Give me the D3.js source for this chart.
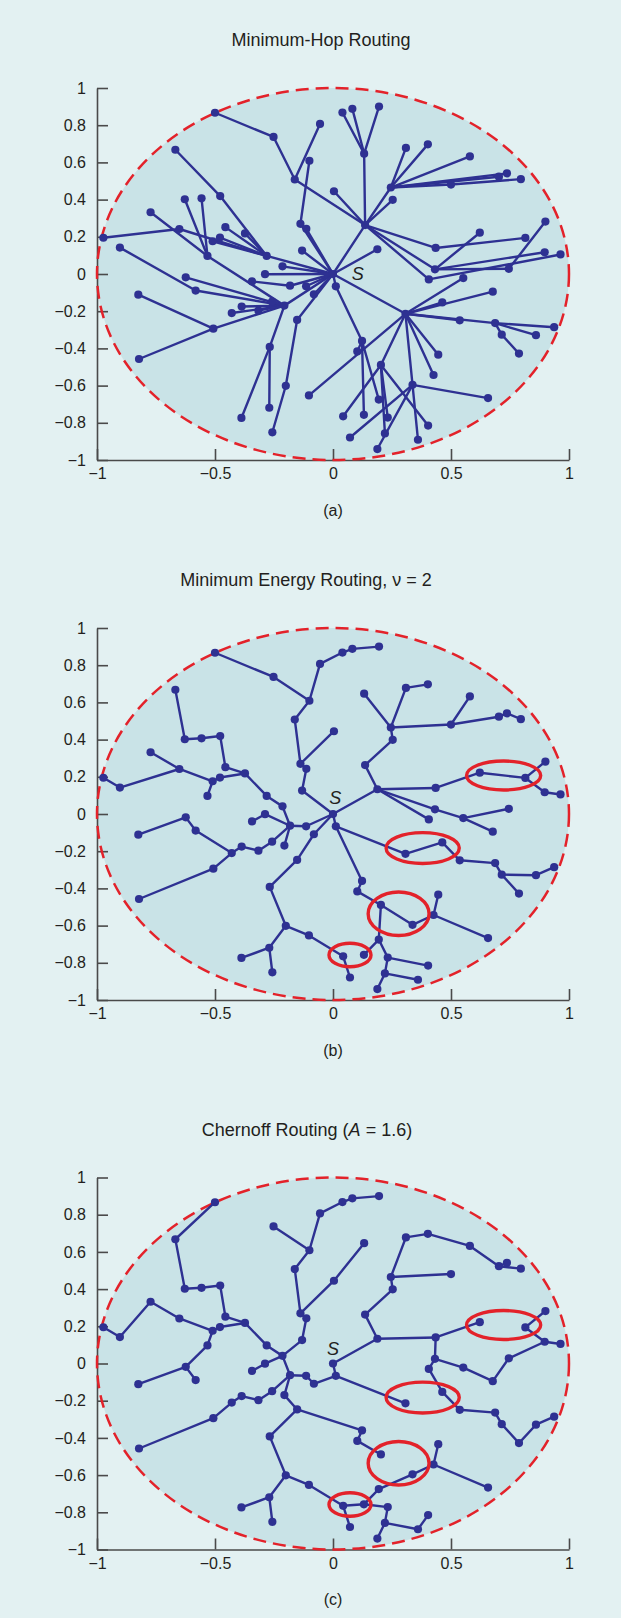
<!DOCTYPE html>
<html><head><meta charset="utf-8">
<script src="https://cdn.jsdelivr.net/npm/d3@7"></script>
<style>
html,body{margin:0;padding:0;background:#e3f1f2;}
svg{display:block;}
text{font-family:"Liberation Sans",Arial,Helvetica,sans-serif;fill:#231f20;}
</style></head><body><svg id="chart" width="621" height="1618"></svg>
<script>
// ---------- data ----------
const xTicks = [-1, -0.5, 0, 0.5, 1];
const xTickLabels = ["−1", "−0.5", "0", "0.5", "1"];
const yTicks = [1, 0.8, 0.6, 0.4, 0.2, 0, -0.2, -0.4, -0.6, -0.8, -1];
const yTickLabels = ["1", "0.8", "0.6", "0.4", "0.2", "0", "−0.2", "−0.4", "−0.6", "−0.8", "−1"];

// sensor nodes: [id, x, y]
const nodes = [
 ["S",0,0],
 ["n1",-0.50,0.867],["n2",-0.252,0.737],["n3",-0.055,0.807],["n4",-0.10,0.609],["n5",-0.162,0.508],
 ["n6",0.004,0.445],["n7",-0.668,0.668],["n8",-0.628,0.402],["n9",-0.557,0.407],["n10",-0.478,0.419],
 ["n11",-0.456,0.252],["n12",-0.373,0.218],["n13",-0.773,0.332],["n14",-0.651,0.242],["n15",-0.973,0.195],
 ["n16",-0.903,0.142],["n17",-0.51,0.176],["n18",-0.479,0.196],["n19",-0.532,0.097],["n20",-0.281,0.097],
 ["n21",-0.214,0.041],["n22",-0.138,0.270],["n23",-0.113,0.243],["n24",-0.131,0.126],["n25",0.040,0.868],
 ["n26",0.082,0.888],["n27",0.195,0.900],["n28",0.132,0.647],["n29",0.309,0.678],["n30",0.402,0.697],
 ["n31",0.580,0.632],["n32",0.245,0.465],["n33",0.253,0.399],["n34",0.50,0.481],["n35",0.703,0.523],
 ["n36",0.737,0.541],["n37",0.796,0.510],["n39",0.136,0.263],["n40",0.188,0.133],["n41",0.435,0.140],
 ["n42",0.622,0.222],["n43",0.815,0.194],["n44",0.90,0.282],["n45",0.897,0.117],["n46",0.964,0.105],
 ["n47",0.432,0.025],["n48",0.745,0.028],["n49",-0.825,-0.111],["n50",-0.624,-0.018],["n51",-0.582,-0.089],
 ["n52",-0.429,-0.210],["n53",-0.387,-0.175],["n54",-0.316,-0.197],["n55",-0.258,-0.149],["n56",-0.507,-0.294],
 ["n57",-0.822,-0.457],["n58",-0.268,-0.392],["n59",-0.152,-0.247],["n60",-0.081,-0.109],["n61",-0.182,-0.063],
 ["n62",-0.114,-0.066],["n63",-0.206,-0.170],["n64",-0.343,-0.040],["n65",-0.288,-0.001],["n67",-0.200,-0.601],
 ["n68",-0.102,-0.653],["n69",-0.270,-0.719],["n70",-0.388,-0.774],["n71",-0.257,-0.851],["n73",0.012,-0.066],
 ["n74",0.406,-0.029],["n75",0.552,-0.022],["n76",0.677,-0.095],["n79",0.307,-0.214],["n80",0.463,-0.153],
 ["n81",0.537,-0.249],["n82",0.687,-0.264],["n83",0.715,-0.326],["n84",0.86,-0.329],["n85",0.937,-0.286],
 ["n86",0.788,-0.428],["n87",0.123,-0.360],["n88",0.103,-0.416],["n89",0.446,-0.434],["n90",0.203,-0.489],
 ["n91",0.426,-0.543],["n92",0.337,-0.596],["n93",0.657,-0.667],["n94",0.194,-0.675],["n95",0.043,-0.765],
 ["n96",0.131,-0.757],["n97",0.232,-0.772],["n98",0.403,-0.815],["n99",0.22,-0.857],["n100",0.072,-0.879],
 ["n101",0.36,-0.891],["n102",0.188,-0.941]
];

// (a) Minimum-hop routing tree
const edgesA = [
 "S-n39","S-n79","S-n63","S-n20","S-n22","S-n23","S-n24","S-n21","S-n40","S-n73","S-n62","S-n60","S-n61","S-n65","S-n59",
 "n39-n5","n5-n2","n2-n1","n5-n3","n4-n22","n39-n6","n39-n28","n28-n25","n28-n26","n28-n27","n39-n32","n32-n29",
 "n32-n30","n32-n31","n32-n34","n32-n35","n32-n36","n34-n37","n39-n33","n39-n41","n41-n43","n39-n47","n47-n42",
 "n47-n45","n47-n48","n48-n44","n39-n74","n74-n46",
 "n20-n10","n10-n7","n20-n11","n20-n12","n20-n14","n20-n17","n20-n18","n14-n15","n19-n8","n19-n9","n19-n13","n63-n19",
 "n63-n56","n56-n49","n56-n57","n63-n51","n51-n16","n63-n50","n63-n52","n63-n53","n63-n54","n63-n55","n61-n64",
 "n63-n58","n58-n69","n58-n70","n59-n67","n67-n71",
 "n79-n68","n79-n80","n79-n76","n79-n75","n79-n81","n79-n82","n82-n85","n82-n84","n82-n83","n83-n86","n79-n89",
 "n79-n91","n79-n92","n79-n90","n92-n93","n92-n101","n92-n100","n92-n102","n90-n95","n90-n97","n90-n98","n90-n99",
 "n73-n87","n87-n88","n87-n94","n87-n96"
];

// (b) Minimum energy routing tree, nu = 2
const edgesB = [
 "S-n40","S-n24","S-n73","S-n62","S-n60",
 "n40-n39","n39-n33","n33-n32","n32-n28","n32-n29","n29-n30","n32-n34","n34-n31","n34-n35","n35-n36","n36-n37",
 "n40-n41","n41-n42","n42-n43","n43-n44","n43-n45","n45-n46","n40-n47","n40-n74","n47-n75","n75-n48","n75-n76",
 "n24-n23","n23-n22","n22-n6","n22-n5","n5-n4","n4-n2","n2-n1","n4-n3","n3-n25","n25-n26","n26-n27",
 "n62-n61","n61-n63","n61-n65","n65-n64","n61-n55","n55-n54","n54-n53","n53-n52","n52-n51","n51-n50","n50-n49",
 "n52-n56","n56-n57","n61-n21","n21-n20","n20-n12","n12-n11","n11-n10","n10-n9","n9-n8","n8-n7","n12-n18",
 "n18-n17","n17-n19","n17-n14","n14-n13","n14-n16","n16-n15",
 "n60-n59","n59-n58","n58-n67","n67-n68","n67-n69","n69-n70","n69-n71","n68-n95","n95-n100",
 "n73-n79","n79-n80","n80-n81","n81-n82","n82-n83","n83-n84","n84-n85","n83-n86",
 "n73-n87","n87-n88","n88-n90","n90-n92","n92-n91","n91-n89","n91-n93","n90-n94","n94-n96","n94-n97",
 "n97-n98","n97-n99","n99-n101","n99-n102"
];

// (c) Chernoff routing tree, A = 1.6
const edgesC = [
 "S-n40","S-n73","n73-n79","n73-n60","n60-n62","n62-n61","n61-n63","n63-n59","n59-n58","n58-n67","n67-n68",
 "n67-n69","n69-n70","n69-n71","n68-n95","n95-n100","n95-n96","n96-n97","n97-n99","n99-n102","n99-n101",
 "n101-n98","n96-n94","n94-n92","n92-n91","n91-n89","n91-n93","n59-n87","n87-n88","n88-n90",
 "n61-n55","n55-n54","n54-n53","n53-n52","n52-n56","n56-n57","n61-n21","n21-n65","n65-n64","n21-n20",
 "n21-n24","n24-n23","n23-n22","n22-n6","n6-n28","n22-n5","n5-n4","n4-n2","n4-n3","n3-n25","n25-n26","n26-n27",
 "n20-n12","n12-n11","n11-n10","n10-n9","n9-n8","n8-n7","n7-n1","n12-n18","n18-n17","n17-n14","n14-n13",
 "n13-n16","n16-n15","n17-n19","n19-n50","n50-n49","n50-n51",
 "n40-n39","n39-n33","n33-n32","n32-n29","n29-n30","n30-n31","n31-n35","n35-n36","n35-n37","n32-n34",
 "n40-n41","n41-n42","n41-n47","n47-n74","n47-n75","n75-n76","n76-n48","n48-n45","n45-n46","n45-n43","n43-n44",
 "n74-n80","n80-n81","n81-n82","n82-n83","n83-n86","n86-n84","n84-n85"
];

// highlighted differences: [cx, cy, rx, ry] in data units
const highlights = [[0.723,0.207,0.157,0.078],[0.380,-0.183,0.155,0.083],[0.278,-0.536,0.129,0.117],[0.072,-0.758,0.089,0.063]];

const panelLabels = ["(a)", "(b)", "(c)"];
const sLabelPos = [[0.105,0.0],[0.01,0.088],[0.0,0.078]];

// ---------- drawing ----------
const BLUE = "#2e3192", RED = "#e3222a", DISC = "#c9e3e7", AXIS = "#4a4a4a";
const svg = d3.select("#chart");
const nodeMap = new Map(nodes.map(d => [d[0], d]));
const x = d3.scaleLinear().domain([-1, 1]).range([97, 569]);

const panels = [
 {y0: 274, edges: edgesA, hl: false, tx: 321},
 {y0: 814, edges: edgesB, hl: true, tx: 306},
 {y0: 1363.5, edges: edgesC, hl: true, tx: 307}
];

panels.forEach((p, i) => {
  const y = d3.scaleLinear().domain([-1, 1]).range([p.y0 + 186, p.y0 - 186]);
  const g = svg.append("g");

  g.append("ellipse").attr("cx", x(0)).attr("cy", y(0))
    .attr("rx", x(1) - x(0)).attr("ry", y(-1) - y(0)).attr("fill", DISC);

  const yAxis = d3.axisLeft(y).tickValues(yTicks).tickFormat((d, j) => yTickLabels[j])
    .tickSizeInner(-11).tickSizeOuter(0).tickPadding(11);
  const gy = g.append("g").attr("transform", `translate(${x(-1)},0)`).call(yAxis);
  const xAxis = d3.axisBottom(x).tickValues(xTicks).tickFormat((d, j) => xTickLabels[j])
    .tickSizeInner(-11).tickSizeOuter(0).tickPadding(8);
  const gx = g.append("g").attr("transform", `translate(0,${y(-1)})`).call(xAxis);
  [gx, gy].forEach(a => {
    a.select(".domain").attr("stroke", AXIS).attr("stroke-width", 1.6);
    a.selectAll(".tick line").attr("stroke", AXIS).attr("stroke-width", 1.6);
    a.selectAll(".tick text").attr("font-size", 16).attr("fill", "#231f20")
      .attr("font-family", '"Liberation Sans",Arial,sans-serif');
  });

  // dashed boundary (unit circle)
  g.append("ellipse").attr("cx", x(0)).attr("cy", y(0))
    .attr("rx", x(1) - x(0)).attr("ry", y(-1) - y(0))
    .attr("fill", "none").attr("stroke", RED).attr("stroke-width", 2.5)
    .attr("stroke-dasharray", "13,7");

  const edges = p.edges.map(s => s.split("-").map(k => nodeMap.get(k)));
  g.append("g").selectAll("line").data(edges).join("line")
    .attr("x1", d => x(d[0][1])).attr("y1", d => y(d[0][2]))
    .attr("x2", d => x(d[1][1])).attr("y2", d => y(d[1][2]))
    .attr("stroke", BLUE).attr("stroke-width", 2.4).attr("stroke-linecap", "round");

  g.append("g").selectAll("circle").data(nodes).join("circle")
    .attr("cx", d => x(d[1])).attr("cy", d => y(d[2])).attr("r", 4.1).attr("fill", BLUE);

  g.append("text").attr("x", x(sLabelPos[i][0])).attr("y", y(sLabelPos[i][1]))
    .attr("dy", "0.36em").attr("text-anchor", "middle").attr("font-size", 18)
    .attr("font-style", "italic").text("S");

  if (p.hl) {
    g.append("g").selectAll("ellipse").data(highlights).join("ellipse")
      .attr("cx", d => x(d[0])).attr("cy", d => y(d[1]))
      .attr("rx", d => x(d[2]) - x(0)).attr("ry", d => y(0) - y(d[3]))
      .attr("fill", "none").attr("stroke", RED).attr("stroke-width", 3.4);
  }

  const t = g.append("text").attr("x", p.tx).attr("y", p.y0 - 234).attr("dy", "0.36em")
    .attr("text-anchor", "middle").attr("font-size", 18);
  if (i === 0) t.text("Minimum-Hop Routing");
  if (i === 1) t.text("Minimum Energy Routing, ν = 2");
  if (i === 2) {
    t.append("tspan").text("Chernoff Routing (");
    t.append("tspan").attr("font-style", "italic").text("A");
    t.append("tspan").text(" = 1.6)");
  }

  g.append("text").attr("x", x(0)).attr("y", p.y0 + 236).attr("dy", "0.36em")
    .attr("text-anchor", "middle").attr("font-size", 16).text(panelLabels[i]);
});
</script></body></html>
